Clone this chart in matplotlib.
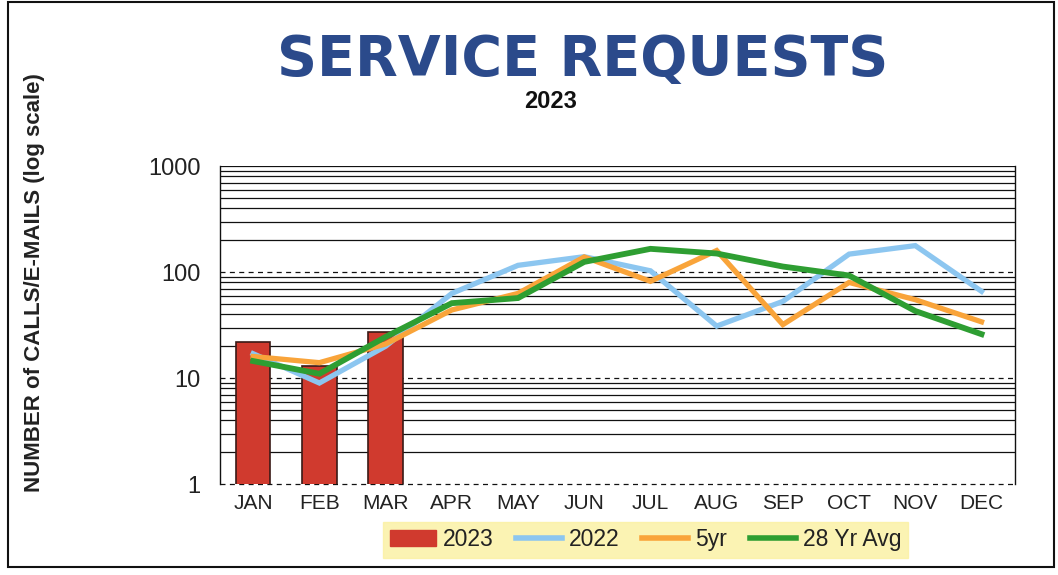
import matplotlib
matplotlib.use("Agg")
import matplotlib.pyplot as plt
from matplotlib.patches import Rectangle
from matplotlib.lines import Line2D
from matplotlib.ticker import LogLocator, NullFormatter, FixedLocator, FixedFormatter
import numpy as np

# data
months = ["JAN", "FEB", "MAR", "APR", "MAY", "JUN",
          "JUL", "AUG", "SEP", "OCT", "NOV", "DEC"]
req_2023 = [22, 13, 27]
req_2022 = [17, 9, 20, 63, 116, 140, 103, 31, 53, 148, 178, 66]
req_5yr = [16, 14, 21, 44, 63, 139, 82, 160, 32, 80, 55, 34]
req_28yr = [14.5, 11, 24.5, 51, 57, 125, 166, 150, 113, 93, 43, 26]
y_ticks = [1, 10, 100, 1000]

plt.rcParams['font.family'] = ['Liberation Sans', 'DejaVu Sans']

fig = plt.figure(figsize=(10.58, 5.75), dpi=100)
ax = fig.add_axes([0.208, 0.158, 0.751, 0.553])

x = np.arange(len(months))

ax.bar(x[:len(req_2023)], req_2023, width=0.52, color="#d03a2e",
       edgecolor="#3a1a16", linewidth=1.2, zorder=3)
ax.plot(x, req_2022, color="#8cc6f0", lw=3.8, zorder=4, solid_joinstyle="miter")
ax.plot(x, req_5yr, color="#f9a43a", lw=3.8, zorder=5, solid_joinstyle="miter")
ax.plot(x, req_28yr, color="#2e9e32", lw=4.2, zorder=6, solid_joinstyle="miter")

ax.set_yscale("log")
ax.set_ylim(1, 1000)
ax.set_xlim(-0.5, 11.5)

# solid minor lines, dashed decades
ax.yaxis.set_minor_locator(LogLocator(base=10, subs=np.arange(2, 10)))
ax.yaxis.set_minor_formatter(NullFormatter())
ax.grid(which="minor", axis="y", color="#111111", lw=0.9, zorder=1)
for v in y_ticks[:-1]:
    ax.axhline(v, color="#111111", lw=0.9, ls=(0, (4, 3.5)), zorder=1, clip_on=False)
ax.axhline(1000, color="#111111", lw=0.9, zorder=1)

ax.yaxis.set_major_locator(FixedLocator(y_ticks))
ax.yaxis.set_major_formatter(FixedFormatter([str(v) for v in y_ticks]))
ax.tick_params(axis="y", which="both", length=0, pad=14, labelsize=17, labelcolor="#222222")
ax.set_xticks(x)
ax.set_xticklabels(months)
ax.tick_params(axis="x", length=0, pad=7, labelsize=15, labelcolor="#222222")

for side in ["top", "bottom"]:
    ax.spines[side].set_visible(False)
for side in ["left", "right"]:
    ax.spines[side].set_color("#111111")
    ax.spines[side].set_linewidth(1.0)

ax.set_ylabel("NUMBER of CALLS/E-MAILS (log scale)", fontsize=16,
              fontweight="bold", color="#222222")
ax.yaxis.set_label_coords(-0.22, 0.635)

fig.text(0.551, 0.896, "SERVICE REQUESTS", ha="center", va="center",
         fontsize=40, fontweight="bold", color="#2b4a8b", family="DejaVu Sans")
fig.text(0.52, 0.823, "2023", ha="center", va="center",
         fontsize=17, fontweight="bold", color="#111111")

handles = [Rectangle((0, 0), 1, 1, facecolor="#d03a2e", edgecolor="#d03a2e"),
           Line2D([], [], color="#8cc6f0", lw=4),
           Line2D([], [], color="#f9a43a", lw=4),
           Line2D([], [], color="#2e9e32", lw=4)]
leg = fig.legend(handles, ["2023", "2022", "5yr", "28 Yr Avg"], loc="center",
                 bbox_to_anchor=(0.61, 0.061), ncol=4, frameon=True, fontsize=16.5,
                 handlelength=2.0, handletextpad=0.3, columnspacing=1.0,
                 borderpad=0.3, fancybox=False)
leg.get_frame().set_facecolor("#fbf1a0")
leg.get_frame().set_edgecolor("#fbf1a0")
for t in leg.get_texts():
    t.set_color("#222222")

# outer border of the scanned chart
fig.patches.append(Rectangle((0.008, 0.014), 0.988, 0.982, transform=fig.transFigure,
                             fill=False, edgecolor="#111111", lw=1.5))

fig.savefig("out.png", dpi=100)
